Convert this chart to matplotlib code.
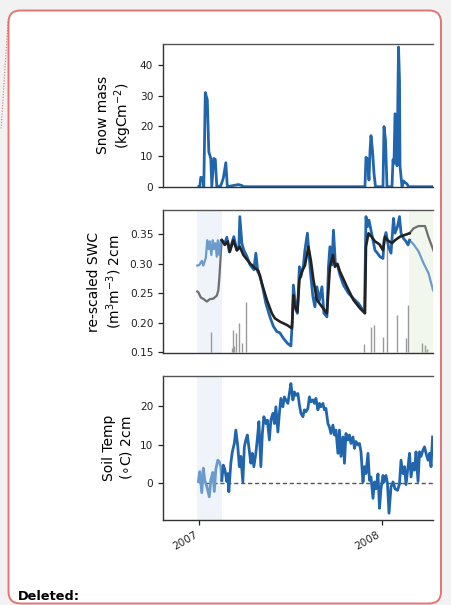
import numpy as np
import matplotlib
matplotlib.use("Agg")
import matplotlib.pyplot as plt
import matplotlib.dates as mdates
from matplotlib.patches import FancyBboxPatch, Rectangle
from matplotlib.lines import Line2D
from matplotlib.transforms import IdentityTransform

# ---------------- data (days since 2007-01-01) ----------------
BASE = np.datetime64('2007-01-01')

snow_days = [-1, 1, 3, 7, 9, 12, 16, 19, 23, 25, 29, 32, 35, 43, 48, 53, 56, 78, 85, 88,
             331, 333, 336, 339, 341, 343, 346, 349, 352, 367, 369, 372, 375, 385, 387, 389,
             391, 393, 395, 398, 400, 401, 405, 408, 411, 415, 418, 467]
snow_mass = [0, 0, 3.1, 2.8, 0, 31.0, 28.6, 11.5, 9.3, 0, 9.3, 9.0, 0, 0.3, 2.8, 7.9, 0, 0.7, 0.4, 0,
             0, 9.7, 9.1, 2.2, 11.5, 16.8, 12.0, 4.4, 0, 0, 19.8, 15.4, 0, 0, 8.9, 7.7,
             24.0, 23.8, 6.9, 46.0, 35.0, 6.8, 0, 1.9, 1.4, 0.9, 0, 0]

# SWC: model (pre-spinup, light blue) in first window
swc_pre_days = [-4, 0, 5, 8, 13, 16, 19, 21, 24, 27, 29, 32, 35, 37, 40, 43, 45]
swc_pre_vals = [0.297, 0.298, 0.305, 0.297, 0.310, 0.340, 0.325, 0.338, 0.315, 0.340, 0.325,
                0.335, 0.312, 0.340, 0.315, 0.340, 0.340]
# observed SWC (grey) in first window
obs_pre_days = [-4, -2, 3, 9, 15, 21, 28, 35, 38, 40, 43, 45]
obs_pre_vals = [0.253, 0.252, 0.243, 0.240, 0.236, 0.240, 0.241, 0.246, 0.255, 0.275, 0.318, 0.340]

# modelled SWC (blue)
swc_days = [45, 51, 55, 60, 65, 69, 75, 79, 81, 85, 89, 95, 101, 109, 113, 117, 121, 127, 133,
            141, 148, 155, 161, 168, 176, 183, 186, 188, 193, 196, 200, 203, 208, 211, 216, 219,
            223, 227, 231, 235, 240, 245, 249, 255, 258, 261, 265, 268, 272, 276, 281, 288, 298,
            308, 318, 325, 330, 333, 336, 339, 343, 347, 351, 356, 361, 367, 369, 373, 378, 383,
            388, 391, 396, 400, 403, 408, 413, 417, 420]
swc_vals = [0.340, 0.335, 0.345, 0.320, 0.335, 0.346, 0.323, 0.326, 0.380, 0.335, 0.323, 0.313,
            0.299, 0.290, 0.318, 0.286, 0.281, 0.2585, 0.233, 0.2104, 0.194, 0.185, 0.183, 0.1737,
            0.1653, 0.1607, 0.2048, 0.264, 0.222, 0.216, 0.295, 0.278, 0.297, 0.323, 0.352, 0.318,
            0.278, 0.244, 0.227, 0.261, 0.238, 0.261, 0.2163, 0.210, 0.295, 0.329, 0.298, 0.357,
            0.298, 0.298, 0.281, 0.264, 0.250, 0.241, 0.233, 0.224, 0.218, 0.380, 0.363, 0.374,
            0.357, 0.340, 0.323, 0.318, 0.312, 0.309, 0.340, 0.353, 0.329, 0.318, 0.377, 0.352,
            0.363, 0.380, 0.352, 0.343, 0.338, 0.332, 0.340]
# observed SWC (black)
obs_days = [45, 51, 57, 61, 68, 75, 81, 88, 101, 111, 118, 125, 135, 145, 151, 161, 175, 185, 188,
            191, 196, 200, 205, 211, 218, 223, 228, 235, 245, 255, 261, 267, 271, 276, 281, 295,
            308, 321, 331, 333, 338, 345, 351, 360, 367, 371, 376, 385, 391, 401, 411, 420]
obs_vals = [0.340, 0.332, 0.338, 0.3205, 0.340, 0.323, 0.329, 0.315, 0.301, 0.293, 0.288, 0.267,
            0.2386, 0.216, 0.2076, 0.202, 0.1963, 0.1907, 0.247, 0.2273, 0.219, 0.2726, 0.287,
            0.297, 0.329, 0.305, 0.273, 0.2386, 0.2273, 0.216, 0.295, 0.315, 0.295, 0.300, 0.287,
            0.261, 0.2386, 0.2246, 0.216, 0.329, 0.3517, 0.345, 0.338, 0.333, 0.323, 0.346, 0.340,
            0.335, 0.340, 0.346, 0.349, 0.3517]
# second window (end of record)
swc_post_days = [420, 428, 438, 448, 458, 467]
swc_post_vals = [0.340, 0.333, 0.321, 0.301, 0.284, 0.255]
obs_post_days = [420, 428, 438, 451, 458, 465, 468]
obs_post_vals = [0.3517, 0.360, 0.364, 0.364, 0.345, 0.329, 0.322]

# precipitation markers (drawn as grey bars in the SWC panel)
rain_days = [24, 66, 68, 70, 73, 79, 85, 93, 330, 343, 349, 368, 375, 395, 413, 417, 445, 450, 455]
rain_top = [0.184, 0.158, 0.188, 0.160, 0.182, 0.199, 0.165, 0.235, 0.1636, 0.1934, 0.1963,
            0.1755, 0.330, 0.2132, 0.174, 0.230, 0.165, 0.162, 0.156]

# soil temperature
t_pre_days = [-2, 1, 5, 8, 11, 15, 20, 23, 27, 30, 33, 37, 40, 43, 45]
t_pre_vals = [0.3, 2.9, -2.6, 3.8, 0.6, -1.0, -3.7, 0.7, 2.7, -2.3, 3.5, 5.9, 5.5, 4.2, 0.6]
t_days = [45, 48, 51, 55, 57, 59, 63, 66, 70, 73, 77, 80, 83, 87, 90, 93, 96, 99, 103, 106, 109,
          113, 117, 119, 123, 126, 129, 133, 136, 140, 143, 147, 150, 153, 157, 160, 163, 167,
          170, 173, 177, 180, 183, 187, 190, 193, 197, 200, 203, 207, 210, 213, 217, 220, 223,
          227, 230, 233, 237, 240, 243, 247, 250, 253, 257, 260, 263, 267, 270, 273, 277, 280,
          283, 287, 290, 293, 297, 300, 303, 307, 310, 313, 317, 320, 323, 327, 330, 333, 337,
          340, 343, 347, 350, 353, 357, 360, 363, 367, 369, 373, 376, 379, 383, 387, 391, 396,
          400, 403, 407, 410, 413, 417, 420, 423, 427, 430, 433, 437, 440, 443, 447, 450, 453,
          457, 460, 463, 466]
t_vals = [0.6, 4.6, 3.5, 0.3, 2.4, -2.4, 5.1, 8.1, 10.3, 13.8, 9.4, 4.2, 6.9, 0.2, 9.4, 11.2,
          12.5, 9.4, 5.1, 7.7, 4.2, 7.7, 12.9, 16.0, 4.2, 12.9, 17.3, 15.5, 16.4, 11.2, 16.4,
          18.2, 15.5, 19.9, 13.3, 18.2, 22.1, 19.9, 22.5, 21.7, 20.8, 23.4, 26.0, 21.7, 23.8,
          22.9, 23.4, 20.4, 18.2, 17.3, 19.1, 18.6, 19.5, 22.5, 21.2, 21.7, 20.8, 22.1, 19.1,
          20.8, 19.9, 20.8, 19.1, 19.5, 15.5, 14.6, 12.9, 15.1, 12.5, 13.8, 7.7, 13.8, 6.9,
          12.0, 5.1, 12.9, 11.2, 12.5, 10.3, 12.0, 9.0, 10.8, 9.9, 10.3, 8.1, 0.2, 4.2, 2.4,
          7.7, 0.6, 1.5, -4.1, 0.2, -1.6, 2.3, -6.7, -1.6, 1.9, 0.2, 1.9, -0.3, -8.0, -1.1,
          0.2, -1.6, -2.0, -0.3, 5.9, 2.4, 4.2, -0.5, 4.2, 7.7, 1.5, 5.1, 3.3, 8.1, 0.3, 8.1,
          6.9, 8.6, 9.4, 7.7, 5.9, 7.7, 4.2, 12.0]

spin_window = (-4.6, 44.8)     # blue shaded period
eval_window_start = 419        # green shaded period start
x_range = (-72.5, 466.9)

# ---------------- helpers ----------------
def to_dates(days):
    return BASE + (np.asarray(days, dtype=float) * 24 * 60).astype('timedelta64[m]')

DARK = '#2166ac'
LIGHT = '#6b9bcd'
BLACK = '#222222'
GREY = '#6e6e6e'

W, H = 451, 605
fig = plt.figure(figsize=(W / 100, H / 100), dpi=100, facecolor='#f2f2f2')

# comment-box background
box = FancyBboxPatch((8.5, 1.5), 432.5, 593.0, boxstyle='round,pad=0,rounding_size=12',
                     transform=IdentityTransform(), facecolor='white', edgecolor='#e27474',
                     linewidth=1.4, zorder=-10)
fig.patches.append(box)
fig.lines.append(Line2D([8 / W, 1 / W], [1 - 22 / H, 1 - 130 / H], transform=fig.transFigure,
                        color='#d9534f', linestyle=(0, (1, 1.5)), linewidth=0.8, alpha=0.8))
fig.text(18 / W, 1 - 600 / H, 'Deleted:', fontsize=9.3, fontweight='bold',
         family='DejaVu Sans', va='baseline', ha='left')

left = 163 / W
width = 270 / W
def add_ax(top_px, bot_px):
    return fig.add_axes([left, 1 - bot_px / H, width, (bot_px - top_px) / H])

ax1 = add_ax(44, 186.7)
ax2 = add_ax(210.3, 353)
ax3 = add_ax(376.3, 519.7)

xl = to_dates(list(x_range))
for ax in (ax1, ax2, ax3):
    ax.set_xlim(xl[0], xl[1])
    ax.set_facecolor('none')
    ax.spines['right'].set_visible(False)
    for s in ('left', 'bottom', 'top'):
        ax.spines[s].set_color('#333333')
        ax.spines[s].set_linewidth(1.0)
    ax.spines['top'].set_color('#555555')
    ax.tick_params(labelsize=7.6, length=3.5, width=0.9, colors='#222222')

# --- panel 1: snow
ax1.plot(to_dates(snow_days), snow_mass, color=DARK, lw=2.0, solid_joinstyle='round')
ax1.set_ylim(0, 47)
ax1.set_yticks([0, 10, 20, 30, 40])
ax1.set_ylabel('Snow mass\n(kgCm$^{-2}$)', fontsize=10)
ax1.tick_params(axis='x', bottom=False, labelbottom=False)

# --- panel 2: SWC
ax2.axvspan(*to_dates(list(spin_window)), color='#eef4fa', lw=0, zorder=0)
ax2.axvspan(to_dates([eval_window_start])[0], xl[1], color='#f1f7ec', lw=0, zorder=0)
ax2.vlines(to_dates(rain_days), 0.15, rain_top, color='#9a9a9a', lw=1.0, zorder=1)
ax2.plot(to_dates(obs_pre_days), obs_pre_vals, color=GREY, lw=1.6, zorder=2)
ax2.plot(to_dates(swc_pre_days), swc_pre_vals, color=LIGHT, lw=1.6, zorder=2)
ax2.plot(to_dates(swc_days), swc_vals, color=DARK, lw=2.0, zorder=3)
ax2.plot(to_dates(obs_days), obs_vals, color=BLACK, lw=1.9, zorder=4)
ax2.plot(to_dates(obs_post_days), obs_post_vals, color=GREY, lw=1.6, zorder=2)
ax2.plot(to_dates(swc_post_days), swc_post_vals, color=LIGHT, lw=1.6, zorder=2)
ax2.set_ylim(0.1488, 0.3907)
ax2.set_yticks([0.15, 0.20, 0.25, 0.30, 0.35])
ax2.set_ylabel('re-scaled SWC\n(m$^3$m$^{-3}$) 2cm', fontsize=10)
ax2.tick_params(axis='x', bottom=False, labelbottom=False)

# --- panel 3: soil temperature
ax3.axvspan(*to_dates(list(spin_window)), color='#eef4fa', lw=0, zorder=0)
ax3.hlines(0, to_dates([0])[0], xl[1], colors='#555555', linestyles=(0, (3, 2)), lw=1.0, zorder=1)
ax3.plot(to_dates(t_pre_days), t_pre_vals, color=LIGHT, lw=2.0, zorder=2)
ax3.plot(to_dates(t_days), t_vals, color=DARK, lw=2.0, zorder=3)
ax3.set_ylim(-9.7, 27.9)
ax3.set_yticks([0, 10, 20])
ax3.set_ylabel('Soil Temp\n($\\circ$C) 2cm', fontsize=10)
ax3.xaxis.set_major_locator(mdates.YearLocator())
ax3.xaxis.set_major_formatter(mdates.DateFormatter('%Y'))
for lbl in ax3.get_xticklabels():
    lbl.set_rotation(30)
    lbl.set_ha('right')

fig.savefig('out.png', dpi=100, facecolor=fig.get_facecolor())
